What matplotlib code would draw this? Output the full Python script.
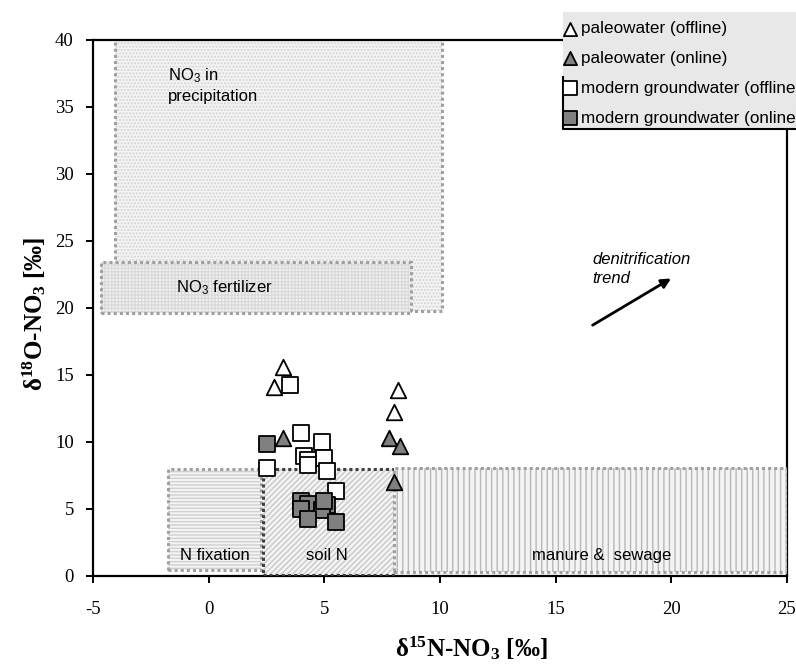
import numpy as np
import matplotlib.pyplot as plt
from matplotlib.patches import Rectangle
from matplotlib.lines import Line2D

plt.rcParams['mathtext.default'] = 'regular'
plt.rcParams['hatch.linewidth'] = 1.0
plt.rcParams['axes.unicode_minus'] = False

# data (d15N, d18O)
paleo_off_x = [3.2, 2.8, 8.2, 8.0]
paleo_off_y = [15.6, 14.1, 13.9, 12.2]
paleo_on_x = [3.2, 7.8, 8.25, 8.0]
paleo_on_y = [10.3, 10.3, 9.65, 7.0]
modern_off_x = [3.5, 4.0, 4.9, 4.1, 4.3, 5.0, 4.3, 5.1, 2.5, 5.5]
modern_off_y = [14.25, 10.65, 10.0, 8.95, 8.65, 8.8, 8.3, 7.85, 8.05, 6.35]
modern_on_x = [2.5, 4.0, 4.3, 4.0, 5.1, 4.9, 5.0, 4.3, 5.5]
modern_on_y = [9.85, 5.6, 5.35, 5.0, 5.3, 4.9, 5.55, 4.2, 4.0]

# source boxes: x0, x1, y0, y1
box_names = ['precip', 'fertilizer', 'fixation', 'soil', 'manure']
box_x0 = [-4.05, -4.65, -1.75, 2.35, 8.0]
box_x1 = [10.1, 8.75, 2.25, 8.05, 25.0]
box_y0 = [19.8, 19.6, 0.45, 0.05, 0.3]
box_y1 = [40.5, 23.4, 7.95, 8.0, 8.05]
box_hatch = ['.....', '+++++', '-----', '//////', '|||']
box_edge = ['#a0a0a0', '#a0a0a0', '#a0a0a0', '#404040', '#a0a0a0']
box_hcol = ['#d4d4d4', '#dadada', '#d0d0d0', '#c8c8c8', '#b8b8b8']

fig = plt.figure(figsize=(7.96, 6.64), dpi=100)
ax = fig.add_axes([0.1172, 0.1330, 0.8711, 0.8068])

for i in range(len(box_names)):
    w = box_x1[i] - box_x0[i]
    h = box_y1[i] - box_y0[i]
    ax.add_patch(Rectangle((box_x0[i], box_y0[i]), w, h, facecolor='#f4f4f4',
                           edgecolor=box_hcol[i], hatch=box_hatch[i], lw=0, zorder=1 + i))
    ax.add_patch(Rectangle((box_x0[i], box_y0[i]), w, h, facecolor='none',
                           edgecolor=box_edge[i], lw=2.2, ls=(0, (1, 1)), zorder=1 + i))

ms = 125
ax.scatter(paleo_off_x, paleo_off_y, s=ms, marker='^', facecolor='white', edgecolor='black', lw=1.3, zorder=10,
           label='paleowater (offline)')
ax.scatter(paleo_on_x, paleo_on_y, s=ms, marker='^', facecolor='#808080', edgecolor='black', lw=1.3, zorder=10,
           label='paleowater (online)')
ax.scatter(modern_off_x, modern_off_y, s=ms, marker='s', facecolor='white', edgecolor='black', lw=1.3, zorder=10,
           label='modern groundwater (offline)')
ax.scatter(modern_on_x, modern_on_y, s=ms, marker='s', facecolor='#808080', edgecolor='black', lw=1.3, zorder=10,
           label='modern groundwater (online)')

sans = 'Liberation Sans'
fs = 12
ax.text(-1.75, 38.0, 'NO$_3$ in\nprecipitation', family=sans, fontsize=fs, va='top', linespacing=1.3, zorder=20)
ax.text(-1.4, 21.5, 'NO$_3$ fertilizer', family=sans, fontsize=fs, va='center', zorder=20)
ax.text(0.28, 1.5, 'N fixation', family=sans, fontsize=fs, ha='center', va='center', zorder=20)
ax.text(5.1, 1.5, 'soil N', family=sans, fontsize=fs, ha='center', va='center', zorder=20)
ax.text(17.0, 1.5, 'manure &  sewage', family=sans, fontsize=fs, ha='center', va='center', zorder=20)
ax.text(16.6, 24.2, 'denitrification\ntrend', family=sans, fontsize=fs, style='italic', va='top',
        linespacing=1.4, zorder=20)
ax.annotate('', xy=(20.1, 22.3), xytext=(16.5, 18.6),
            arrowprops=dict(arrowstyle='-|>', color='black', lw=2, mutation_scale=14), zorder=20)

ax.set_xlim(-5, 25)
ax.set_ylim(0, 40)
ax.set_xticks(np.arange(-5, 26, 5))
ax.set_yticks(np.arange(0, 41, 5))
ax.tick_params(direction='out', length=5, width=1.4, labelsize=13.5)
ax.tick_params(axis='x', pad=13)
ax.tick_params(axis='y', pad=9)
for lab in ax.get_xticklabels() + ax.get_yticklabels():
    lab.set_family('Liberation Serif')
for sp in ax.spines.values():
    sp.set_linewidth(1.6)

ax.set_xlabel('δ$^{15}$N-NO$_3$ [‰]', family='Liberation Serif', fontsize=18, fontweight='bold', va='center')
ax.set_ylabel('δ$^{18}$O-NO$_3$ [‰]', family='Liberation Serif', fontsize=18, fontweight='bold', va='center')
ax.xaxis.set_label_coords(0.545, -0.135)
ax.yaxis.set_label_coords(-0.0855, 0.488)

# legend background (runs off the right edge like the original)
W, H = 796.0, 664.0
fig.add_artist(Rectangle((563 / W, 1 - 129 / H), 240 / W, 117 / H, transform=fig.transFigure,
                         facecolor='#e8e8e8', edgecolor='none', zorder=25))
fig.add_artist(Line2D([563 / W, 563 / W, 1.0], [1 - 77 / H, 1 - 129 / H, 1 - 129 / H],
                      transform=fig.transFigure, color='black', lw=1.5, zorder=26))
leg = fig.legend(loc='upper left', bbox_to_anchor=(563.5 / W, 1 - 21 / H), frameon=False,
                 prop={'family': sans, 'size': 12.3}, handletextpad=0.25, labelspacing=0.87,
                 borderaxespad=0, borderpad=0, scatterpoints=1, markerscale=0.85, handlelength=0.8)
leg.set_zorder(30)

fig.savefig('out.png', dpi=100)
